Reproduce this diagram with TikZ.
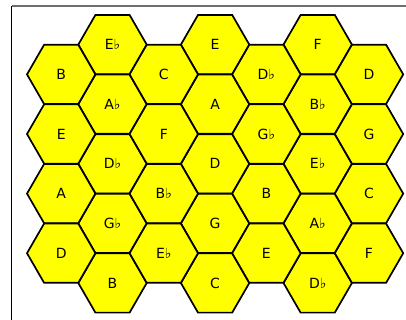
\documentclass[tikz,border=0pt]{standalone}
\usepackage{fontspec}
\setmainfont{DejaVu Sans}
\usetikzlibrary{shapes.geometric}
\definecolor{hexfill}{RGB}{255,255,0}
\definecolor{framegray}{RGB}{110,110,110}
\tikzset{
  hexcell/.style={regular polygon, regular polygon sides=6, minimum size=68.4pt,
    inner sep=0pt, outer sep=0pt, draw=black, fill=hexfill, line width=1.7pt,
    font=\fontsize{14}{16}\selectfont},
}
\begin{document}
\begin{tikzpicture}[x=1pt,y=-1pt]
\useasboundingbox (0,0) rectangle (406,320);
% odd columns
\foreach \c/\labs in {1/{E♭,A♭,D♭,G♭,B},3/{E,A,D,G,C},5/{F,B♭,E♭,A♭,D♭}}{
  \foreach \l [count=\r from 0] in \labs {
    \node[hexcell] (h\c\r) at ({61.2+51.3*\c},{44.6+59.6*\r}) {\l};
  }
}
% even columns
\foreach \c/\labs in {0/{B,E,A,D},2/{C,F,B♭,E♭},4/{D♭,G♭,B,E},6/{D,G,C,F}}{
  \foreach \l [count=\r from 0] in \labs {
    \node[hexcell] (h\c\r) at ({61.2+51.3*\c},{74.4+59.6*\r}) {\l};
  }
}
% frame edges
\coordinate (ftl) at (11.5,6);
\coordinate (ftr) at (406,6);
\coordinate (fbl) at (11.5,320);
\draw[framegray, line width=2pt] (ftl) -- (ftr);
\draw[black, line width=1.3pt] (ftl) -- (fbl);
\end{tikzpicture}
\end{document}
